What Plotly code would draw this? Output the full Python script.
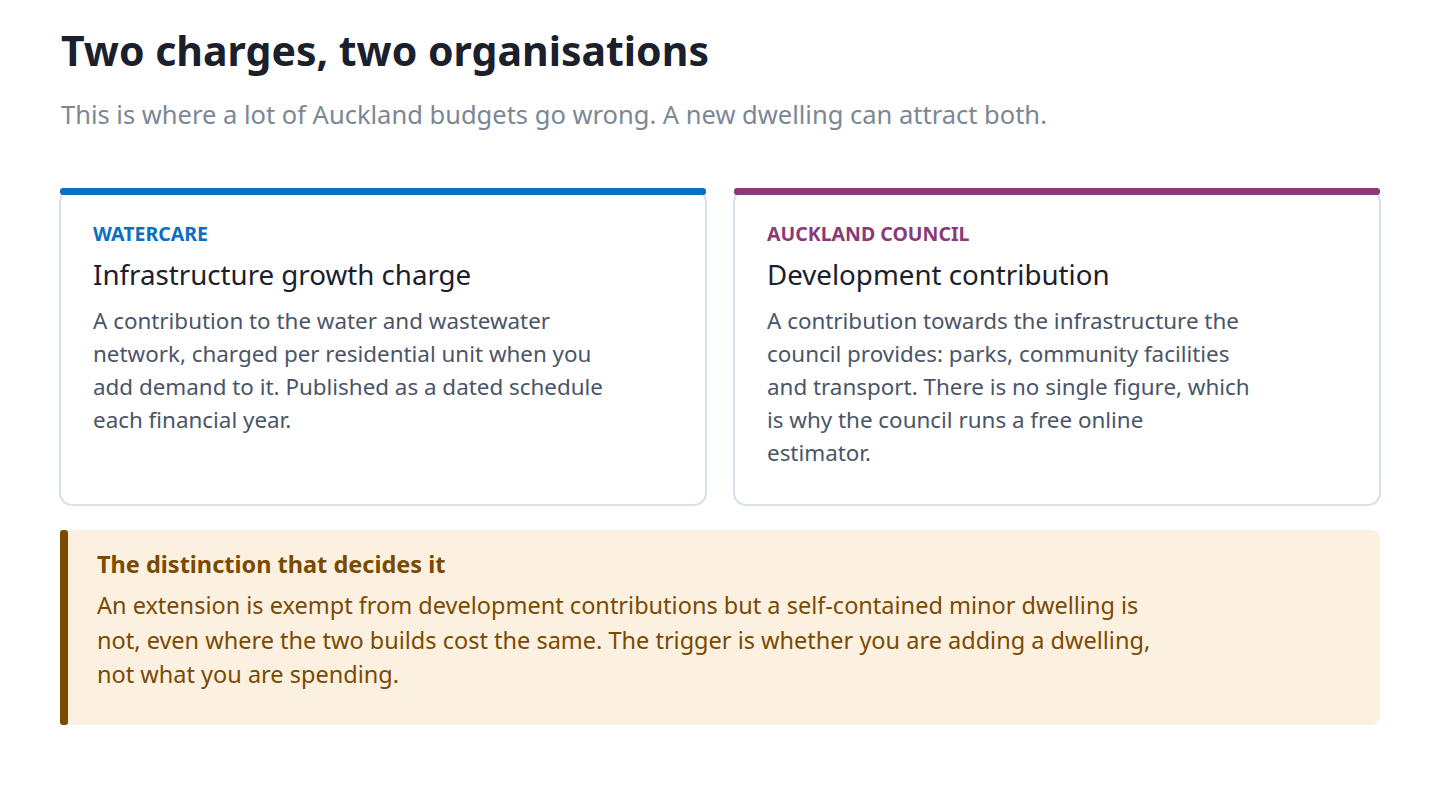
import plotly.graph_objects as go

title = "Two charges, two organisations"
subtitle = "This is where a lot of Auckland budgets go wrong. A new dwelling can attract both."
card_labels = ["WATERCARE", "AUCKLAND COUNCIL"]
card_titles = ["Infrastructure growth charge", "Development contribution"]
card_colors = ["#0a6fc2", "#8a3a78"]
card_bodies = [
    ["A contribution to the water and wastewater",
     "network, charged per residential unit when you",
     "add demand to it. Published as a dated schedule",
     "each financial year."],
    ["A contribution towards the infrastructure the",
     "council provides: parks, community facilities",
     "and transport. There is no single figure, which",
     "is why the council runs a free online",
     "estimator."],
]
note_title = "The distinction that decides it"
note_lines = [
    "An extension is exempt from development contributions but a self-contained minor dwelling is",
    "not, even where the two builds cost the same. The trigger is whether you are adding a dwelling,",
    "not what you are spending.",
]

FONT = "Noto Sans"

def rrect(x0, y0, x1, y1, r):
    return (f"M{x0+r},{y0} L{x1-r},{y0} Q{x1},{y0} {x1},{y0+r} L{x1},{y1-r} Q{x1},{y1} {x1-r},{y1} "
            f"L{x0+r},{y1} Q{x0},{y1} {x0},{y1-r} L{x0},{y0+r} Q{x0},{y0} {x0+r},{y0} Z")

shapes, ann = [], []
def text(x, y, s, size, color, bold=False):
    ann.append(dict(x=x - 1, y=y, xref="x", yref="y", text=f"<b>{s}</b>" if bold else s,
                    showarrow=False, xanchor="left", yanchor="middle",
                    font=dict(family=FONT, size=size, color=color)))

text(60, 50, title, 41, "#1a202c", True)
text(60, 114, subtitle, 25.5, "#7b8794")

for i, x0 in enumerate([60, 734]):
    x1 = x0 + 646
    shapes.append(dict(type="path", path=rrect(x0, 190, x1, 505, 14), xref="x", yref="y",
                       fillcolor="white", line=dict(color="#d9e0e8", width=2)))
    shapes.append(dict(type="path", path=rrect(x0, 188, x1, 195, 3), xref="x", yref="y",
                       fillcolor=card_colors[i], line=dict(width=0)))
    text(x0 + 32, 233, card_labels[i], 19.5, card_colors[i], True)
    text(x0 + 32, 274, card_titles[i], 27.7, "#1a202c")
    for j, line in enumerate(card_bodies[i]):
        text(x0 + 32, 320 + 33 * j, line, 22.4, "#4a5568")

shapes.append(dict(type="path", path=rrect(60, 530, 1380, 725, 10), xref="x", yref="y",
                   fillcolor="#fcf1e0", line=dict(width=0)))
shapes.append(dict(type="path", path=rrect(60, 530, 68, 725, 3), xref="x", yref="y",
                   fillcolor="#7a4a00", line=dict(width=0)))
text(96, 564, note_title, 23.5, "#7a4a00", True)
for j, line in enumerate(note_lines):
    text(96, 605 + 34.5 * j, line, 23.5, "#7a4a00")

fig = go.Figure()
fig.update_layout(width=1440, height=786, margin=dict(l=0, r=0, t=0, b=0),
                  paper_bgcolor="white", plot_bgcolor="white",
                  xaxis=dict(range=[8, 1448], visible=False, fixedrange=True),
                  yaxis=dict(range=[794, 8], visible=False, fixedrange=True),
                  shapes=shapes, annotations=ann, showlegend=False)
fig.write_html("out.html", config={"displayModeBar": False})
